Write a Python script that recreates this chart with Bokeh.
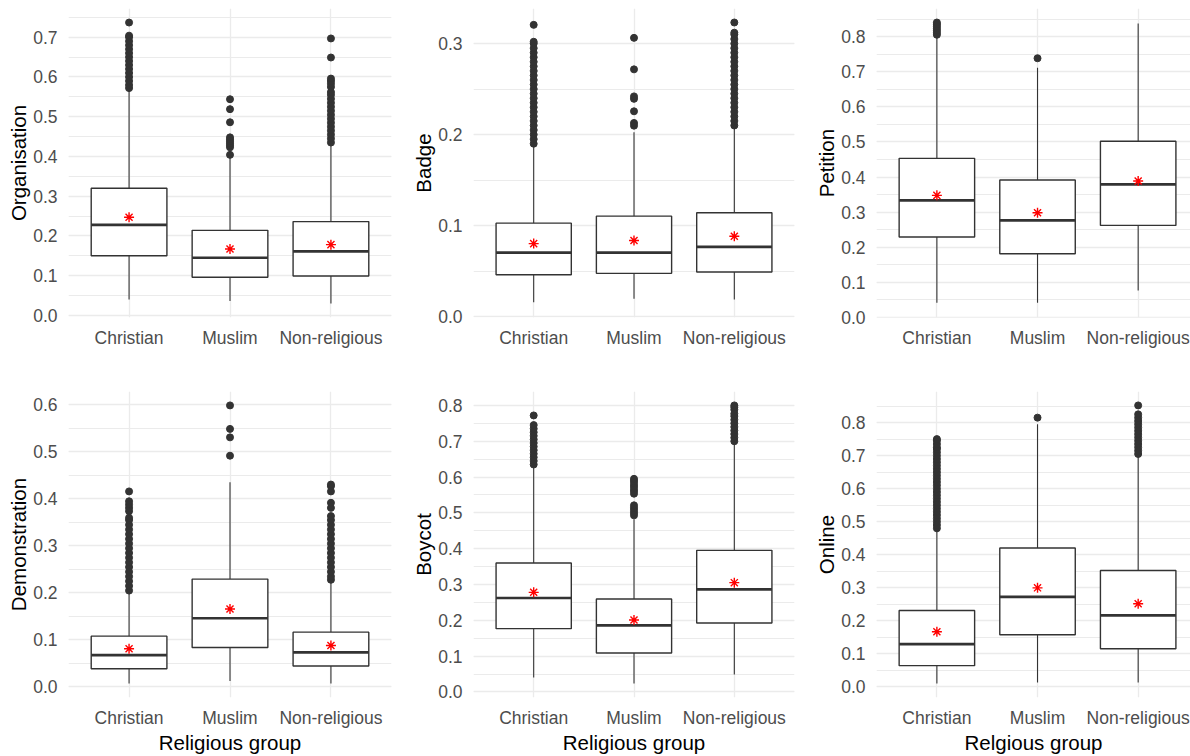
from bokeh.plotting import figure
from bokeh.layouts import column, row
from bokeh.models import (ColumnDataSource, Range1d, FixedTicker, SingleIntervalTicker,
                          NumeralTickFormatter)
from bokeh.transform import dodge
from bokeh.embed import file_html
from bokeh.resources import INLINE

# ---------------- data ----------------
groups = ["Christian", "Muslim", "Non-religious"]

# Organisation
org_q1 = [0.150, 0.096, 0.099]
org_med = [0.228, 0.145, 0.161]
org_q3 = [0.320, 0.214, 0.236]
org_lo = [0.040, 0.036, 0.030]
org_hi = [0.568, 0.398, 0.432]
org_mean = [0.247, 0.167, 0.178]
org_out_chr = [0.572, 0.58, 0.59, 0.60, 0.61, 0.62, 0.63, 0.64, 0.65, 0.66, 0.67, 0.68,
               0.69, 0.70, 0.704, 0.737]
org_out_mus = [0.404, 0.423, 0.428, 0.433, 0.438, 0.443, 0.448, 0.486, 0.519, 0.544]
org_out_non = [0.435, 0.445, 0.455, 0.465, 0.475, 0.485, 0.495, 0.505, 0.515, 0.525,
               0.535, 0.545, 0.555, 0.562, 0.575, 0.583, 0.590, 0.596, 0.649, 0.697]

# Badge
bad_q1 = [0.046, 0.0475, 0.049]
bad_med = [0.0703, 0.0703, 0.0766]
bad_q3 = [0.1027, 0.1104, 0.1141]
bad_lo = [0.0158, 0.0195, 0.0188]
bad_hi = [0.189, 0.2025, 0.2083]
bad_mean = [0.0802, 0.0836, 0.0883]
bad_out_chr = [0.190, 0.195, 0.200, 0.205, 0.210, 0.215, 0.220, 0.225, 0.230, 0.235,
               0.240, 0.245, 0.250, 0.255, 0.260, 0.265, 0.270, 0.275, 0.280, 0.285,
               0.290, 0.295, 0.300, 0.302, 0.3206]
bad_out_mus = [0.2098, 0.2128, 0.2256, 0.2393, 0.242, 0.2717, 0.3063]
bad_out_non = [0.210, 0.215, 0.220, 0.225, 0.230, 0.235, 0.240, 0.245, 0.250, 0.255,
               0.260, 0.265, 0.270, 0.275, 0.280, 0.285, 0.290, 0.295, 0.300, 0.305,
               0.310, 0.312, 0.3232]

# Petition
pet_q1 = [0.2286, 0.181, 0.2619]
pet_med = [0.3333, 0.2762, 0.379]
pet_q3 = [0.4533, 0.3914, 0.5019]
pet_lo = [0.041, 0.041, 0.0762]
pet_hi = [0.803, 0.712, 0.838]
pet_mean = [0.3476, 0.2981, 0.3886]
pet_out_chr = [0.806, 0.812, 0.818, 0.824, 0.830, 0.836, 0.841]
pet_out_mus = [0.739]
pet_out_non = []

# Demonstration
dem_q1 = [0.0388, 0.084, 0.0445]
dem_med = [0.0678, 0.1461, 0.0734]
dem_q3 = [0.108, 0.2294, 0.1165]
dem_lo = [0.0071, 0.0127, 0.0071]
dem_hi = [0.201, 0.4355, 0.222]
dem_mean = [0.0812, 0.1659, 0.0882]
dem_out_chr = [0.205, 0.215, 0.225, 0.235, 0.245, 0.255, 0.265, 0.275, 0.285, 0.295,
               0.305, 0.315, 0.325, 0.335, 0.345, 0.355, 0.360, 0.374, 0.381, 0.388,
               0.395, 0.416]
dem_out_mus = [0.492, 0.531, 0.549, 0.599]
dem_out_non = [0.228, 0.235, 0.245, 0.255, 0.265, 0.275, 0.285, 0.295, 0.305, 0.315,
               0.325, 0.335, 0.345, 0.355, 0.3635, 0.381, 0.3918, 0.416, 0.427, 0.4306]

# Boycot
boy_q1 = [0.1767, 0.1088, 0.1926]
boy_med = [0.2623, 0.186, 0.2865]
boy_q3 = [0.360, 0.2595, 0.3953]
boy_lo = [0.040, 0.0233, 0.0484]
boy_hi = [0.631, 0.482, 0.696]
boy_mean = [0.2781, 0.2009, 0.3051]
boy_out_chr = [0.635, 0.645, 0.655, 0.665, 0.675, 0.685, 0.695, 0.705, 0.715, 0.725,
               0.735, 0.745, 0.772]
boy_out_mus = [0.493, 0.500, 0.507, 0.514, 0.521, 0.5535, 0.561, 0.568, 0.575, 0.582,
               0.589, 0.595]
boy_out_non = [0.700, 0.710, 0.720, 0.730, 0.740, 0.750, 0.760, 0.770, 0.777, 0.788,
               0.795, 0.800]

# Online
onl_q1 = [0.0644, 0.158, 0.1157]
onl_med = [0.1298, 0.2727, 0.2164]
onl_q3 = [0.2314, 0.4206, 0.3522]
onl_lo = [0.0101, 0.0131, 0.0131]
onl_hi = [0.476, 0.795, 0.701]
onl_mean = [0.167, 0.2999, 0.2516]
onl_out_chr = [0.48, 0.49, 0.50, 0.51, 0.52, 0.53, 0.54, 0.55, 0.56, 0.57, 0.58, 0.59,
               0.60, 0.61, 0.62, 0.63, 0.64, 0.65, 0.66, 0.67, 0.68, 0.69, 0.70, 0.71,
               0.72, 0.725, 0.735, 0.745, 0.75]
onl_out_mus = [0.815]
onl_out_non = [0.705, 0.715, 0.725, 0.735, 0.745, 0.755, 0.765, 0.775, 0.785, 0.795,
               0.805, 0.815, 0.825, 0.852]

# ---------------- styling ----------------
FONT = "Liberation Sans"
DARK = "#333333"
GRID = "#EBEBEB"


def make_panel(ylabel, q1, med, q3, lo, hi, mean, outs, width, mleft, mright,
               height, mtop, mbottom, xlabel=None, xend=3.6):
    xpos = list(range(1, len(groups) + 1))
    all_vals = lo + hi + [v for o in outs for v in o]
    vmin, vmax = min(all_vals), max(all_vals)
    pad = (vmax - vmin) * 0.05
    ystart = min(vmin - pad, -0.001)

    p = figure(width=width, height=height, output_backend="svg", toolbar_location=None,
               x_range=Range1d(0.4, xend), y_range=Range1d(ystart, vmax + pad),
               min_border_left=mleft, min_border_right=mright,
               min_border_top=mtop, min_border_bottom=mbottom)
    p.outline_line_color = None
    p.background_fill_color = "white"
    p.border_fill_color = "white"

    src = ColumnDataSource(dict(x=xpos, q1=q1, med=med, q3=q3, lo=lo, hi=hi, mean=mean))
    ox, oy = [], []
    for i, o in enumerate(outs):
        ox += [xpos[i]] * len(o)
        oy += o

    p.segment(x0="x", x1="x", y0="q3", y1="hi", source=src, line_color=DARK, line_width=1.1)
    p.segment(x0="x", x1="x", y0="lo", y1="q1", source=src, line_color=DARK, line_width=1.1)
    p.scatter(ox, oy, marker="circle", size=7, fill_color=DARK, line_color=DARK)
    p.vbar(x="x", width=0.75, top="q3", bottom="q1", source=src, fill_color="white",
           line_color=DARK, line_width=1.4)
    p.segment(x0=dodge("x", -0.375), x1=dodge("x", 0.375), y0="med", y1="med",
              source=src, line_color=DARK, line_width=2.7)
    p.scatter(x="x", y="mean", source=src, marker="asterisk", size=10,
              line_color="red", line_width=1.4)

    xa = p.xaxis[0]
    xa.ticker = FixedTicker(ticks=xpos)
    xa.major_label_overrides = {xv: g for xv, g in zip(xpos, groups)}
    ya = p.yaxis[0]
    ya.ticker = SingleIntervalTicker(interval=0.1, num_minor_ticks=2)
    ya.formatter = NumeralTickFormatter(format="0.0")
    for ax in (xa, ya):
        ax.axis_line_color = None
        ax.major_tick_line_color = None
        ax.minor_tick_line_color = None
        ax.major_tick_out = 0
        ax.major_tick_in = 0
        ax.minor_tick_out = 0
        ax.minor_tick_in = 0
        ax.major_label_text_font = FONT
        ax.major_label_text_font_size = "17.5px"
        ax.major_label_text_color = "#4D4D4D"
        ax.axis_label_text_font = FONT
        ax.axis_label_text_font_size = "20.5px"
        ax.axis_label_text_font_style = "normal"
        ax.axis_label_text_color = "black"
    ya.axis_label = ylabel
    ya.major_label_standoff = 11
    ya.axis_label_standoff = 0
    xa.major_label_standoff = 10
    if xlabel:
        xa.axis_label = xlabel
        xa.axis_label_standoff = 0

    p.xgrid.ticker = FixedTicker(ticks=xpos)
    p.xgrid.grid_line_color = GRID
    p.xgrid.grid_line_width = 1.3
    p.ygrid.grid_line_color = GRID
    p.ygrid.grid_line_width = 1.3
    p.ygrid.minor_grid_line_color = GRID
    p.ygrid.minor_grid_line_width = 1.1
    return p


# column geometry: (width, min_border_left, min_border_right)
c1 = (400, 68, 9)
c2 = (400, 73, 6)
c3 = (390, 76, 0)
# row geometry: (height, min_border_top, min_border_bottom)
r1 = (380, 8, 63)
r2 = (376, 11, 59)

p1 = make_panel("Organisation", org_q1, org_med, org_q3, org_lo, org_hi, org_mean,
                [org_out_chr, org_out_mus, org_out_non], *c1, *r1)
p2 = make_panel("Badge", bad_q1, bad_med, bad_q3, bad_lo, bad_hi, bad_mean,
                [bad_out_chr, bad_out_mus, bad_out_non], *c2, *r1)
p3 = make_panel("Petition", pet_q1, pet_med, pet_q3, pet_lo, pet_hi, pet_mean,
                [pet_out_chr, pet_out_mus, pet_out_non], *c3, *r1, xend=3.52)
p4 = make_panel("Demonstration", dem_q1, dem_med, dem_q3, dem_lo, dem_hi, dem_mean,
                [dem_out_chr, dem_out_mus, dem_out_non], *c1, *r2,
                xlabel="Religious group")
p5 = make_panel("Boycot", boy_q1, boy_med, boy_q3, boy_lo, boy_hi, boy_mean,
                [boy_out_chr, boy_out_mus, boy_out_non], *c2, *r2,
                xlabel="Religious group")
p6 = make_panel("Online", onl_q1, onl_med, onl_q3, onl_lo, onl_hi, onl_mean,
                [onl_out_chr, onl_out_mus, onl_out_non], *c3, *r2,
                xlabel="Relgious group", xend=3.52)

layout = column(row(p1, p2, p3), row(p4, p5, p6))
open("out.html", "w").write(file_html(layout, INLINE))
